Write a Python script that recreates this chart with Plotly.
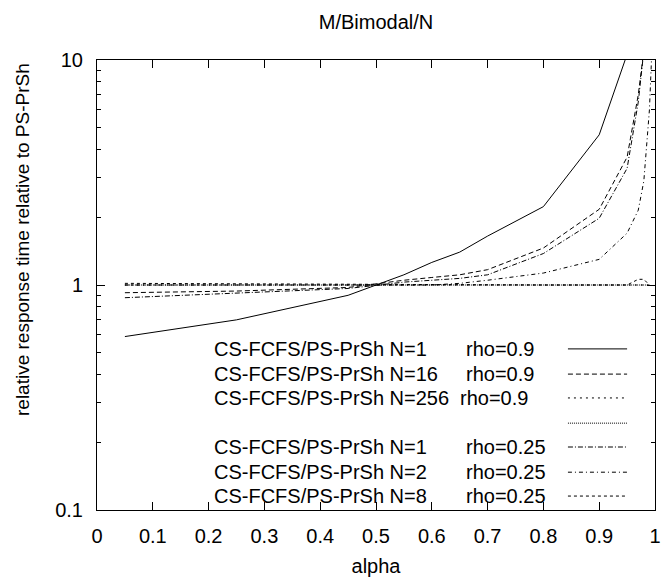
import plotly.graph_objects as go

# ---- data ----
x_a = [0.05, 0.25, 0.45, 0.55, 0.6, 0.65, 0.7, 0.8, 0.9, 0.95]
y_a = [0.59, 0.70, 0.90, 1.11, 1.26, 1.40, 1.65, 2.23, 4.65, 10.6]        # N=1 rho=0.9

x_b = [0.05, 0.25, 0.45, 0.55, 0.6, 0.65, 0.7, 0.8, 0.9, 0.95, 0.97, 0.98]
y_b = [0.924, 0.94, 0.975, 1.05, 1.08, 1.11, 1.17, 1.46, 2.17, 3.7, 7.0, 11.0]  # N=16 rho=0.9

x_c = [0.05, 0.25, 0.45, 0.55, 0.6, 0.65, 0.7, 0.8, 0.9, 0.95, 0.97, 0.98]
y_c = [0.878, 0.918, 0.965, 1.03, 1.05, 1.07, 1.11, 1.38, 1.98, 3.3, 6.5, 11.0]  # N=1 rho=0.25

x_d = [0.05, 0.25, 0.45, 0.55, 0.6, 0.65, 0.7, 0.8, 0.9, 0.95, 0.97, 0.98, 0.99, 0.995]
y_d = [1.0, 1.0, 1.0, 1.0, 1.0, 1.017, 1.05, 1.13, 1.30, 1.7, 2.15, 2.9, 6.0, 12.0]  # N=2 rho=0.25

x_e = [0.05, 0.25, 0.45, 0.55, 0.6, 0.65, 0.7, 0.8, 0.9, 0.95, 0.97, 0.98, 0.99]
y_e = [1.0, 1.0, 1.0, 1.0, 1.0, 1.0, 1.0, 1.0, 1.0, 1.0, 1.0, 1.0, 1.0]       # N=256 rho=0.9
y_f = [1.0, 1.0, 1.0, 1.0, 1.0, 1.0, 1.0, 1.0, 1.0, 1.0, 1.0, 1.0, 1.0]       # (unlabelled)
y_g = [1.017, 1.012, 1.005, 1.0, 1.0, 1.0, 1.0, 1.0, 1.0, 1.0, 1.06, 1.06, 1.0]  # N=8 rho=0.25

x_ticks = [0, 0.1, 0.2, 0.3, 0.4, 0.5, 0.6, 0.7, 0.8, 0.9, 1]
x_tick_labels = ["0", "0.1", "0.2", "0.3", "0.4", "0.5", "0.6", "0.7", "0.8", "0.9", "1"]
y_ticks = [0.1, 1, 10]
y_tick_labels = ["0.1", "1", "10"]

legend_left = ["CS-FCFS/PS-PrSh N=1", "CS-FCFS/PS-PrSh N=16", "CS-FCFS/PS-PrSh N=256",
               "", "CS-FCFS/PS-PrSh N=1", "CS-FCFS/PS-PrSh N=2", "CS-FCFS/PS-PrSh N=8"]
legend_right = ["rho=0.9", "rho=0.9", "rho=0.9", "", "rho=0.25", "rho=0.25", "rho=0.25"]

FONT = "Liberation Sans, Arial, sans-serif"
FS = 20

dashes = ["solid", "5px,3px", "2px,4px", "1px,1px", "5px,2px,1px,2px", "4px,3px,1px,3px", "3px,3px"]
series = [
    (x_a, y_a, 0), (x_b, y_b, 1), (x_e, y_e, 2), (x_e, y_f, 3),
    (x_c, y_c, 4), (x_d, y_d, 5), (x_e, y_g, 6),
]

fig = go.Figure()
for xs, ys, i in series:
    fig.add_trace(go.Scatter(
        x=xs, y=ys, mode="lines",
        name=(legend_left[i] + " " + legend_right[i]).strip() or " ",
        line=dict(color="black", width=1, dash=dashes[i]),
        showlegend=False,
    ))

# manual key: text on the left, line sample on the right (gnuplot style)
row_y = [0.358, 0.302, 0.249, 0.193, 0.140, 0.084, 0.031]
annotations = []
shapes = []
for i, yy in enumerate(row_y):
    if legend_left[i]:
        annotations.append(dict(x=0.206, y=yy, xref="x domain", yref="y domain",
                                text=legend_left[i], showarrow=False, xanchor="left",
                                yanchor="middle", font=dict(family=FONT, size=FS, color="black")))
        annotations.append(dict(x=0.647 if i == 2 else 0.658, y=yy, xref="x domain", yref="y domain",
                                text=legend_right[i], showarrow=False, xanchor="left",
                                yanchor="middle", font=dict(family=FONT, size=FS, color="black")))
    shapes.append(dict(type="line", xref="x domain", yref="y domain",
                       x0=0.844, x1=0.950, y0=yy, y1=yy,
                       line=dict(color="black", width=1, dash=dashes[i])))

annotations.append(dict(x=(22 - 97) / 558, y=(510 - 240) / 450, xref="paper", yref="paper",
                        text="relative response time relative to PS-PrSh",
                        showarrow=False, textangle=-90, xanchor="center", yanchor="middle",
                        font=dict(family=FONT, size=19, color="black")))

fig.update_layout(
    width=667, height=582,
    margin=dict(l=97, r=12, t=60, b=72),
    paper_bgcolor="white", plot_bgcolor="white",
    font=dict(family=FONT, size=FS, color="black"),
    title=dict(text="M/Bimodal/N", x=376 / 667, xanchor="center", y=1 - 22 / 582, yanchor="middle",
               font=dict(family=FONT, size=FS, color="black")),
    annotations=annotations,
    shapes=shapes,
    xaxis=dict(
        range=[0, 1], tickvals=x_ticks, ticktext=x_tick_labels, automargin=False,
        ticks="inside", ticklen=8, tickcolor="black", showline=True, linecolor="black", linewidth=1,
        mirror="allticks", showgrid=False, zeroline=False, ticklabelstandoff=8,
        title=dict(text="alpha", standoff=12, font=dict(family=FONT, size=FS)),
    ),
    yaxis=dict(
        type="log", range=[-1, 1], tickvals=y_ticks, ticktext=y_tick_labels, automargin=False,
        ticks="inside", ticklen=8, tickcolor="black", showline=True, linecolor="black", linewidth=1,
        mirror="allticks", showgrid=False, zeroline=False, ticklabelstandoff=9,
        minor=dict(ticks="inside", ticklen=4, tickcolor="black", showgrid=False, dtick="D1"),
    ),
)

fig.write_html("out.html", config={"displayModeBar": False},
               post_script="document.body.style.margin='0';")
